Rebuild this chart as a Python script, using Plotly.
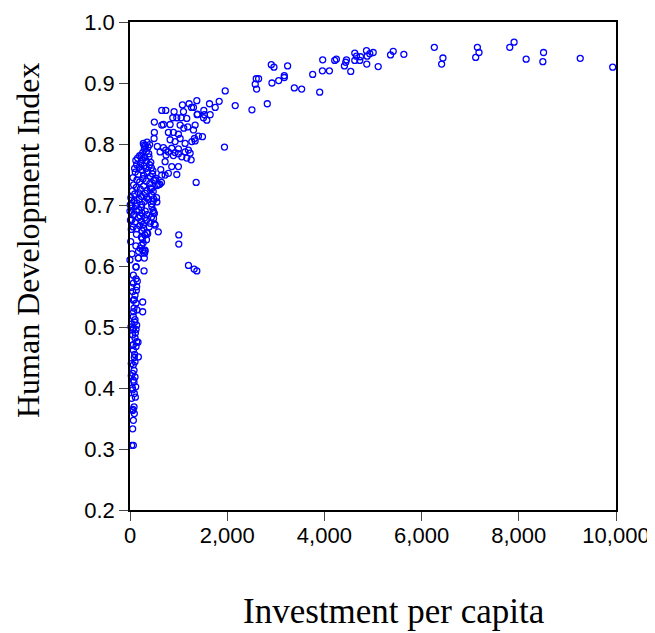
import plotly.graph_objects as go

# Investment per capita (x) and Human Development Index (y)
invest_right = [2598, 2646, 2577, 2605, 2509, 2825, 2907, 2962, 2921, 3059, 3175, 3175, 3243,
                3381, 3532, 3759, 3903, 3959, 3965, 4103, 4212, 4247, 4412, 4439, 4454, 4542,
                4625, 4625, 4660, 4728, 4742, 4866, 4880, 4872, 4934, 5004, 5107, 5361, 5416,
                5635, 6262, 6439, 6412, 7148, 7181, 7113, 7814, 7903, 8151, 8509, 8495, 9264, 9932]
hdi_right = [0.907, 0.907, 0.898, 0.890, 0.856, 0.866, 0.930, 0.926, 0.900, 0.904, 0.912, 0.909, 0.928,
             0.892, 0.890, 0.914, 0.885, 0.920, 0.938, 0.920, 0.937, 0.939, 0.928, 0.934, 0.938, 0.919,
             0.949, 0.937, 0.944, 0.937, 0.943, 0.953, 0.944, 0.931, 0.948, 0.950, 0.927, 0.946, 0.952,
             0.947, 0.9585, 0.941, 0.931, 0.9585, 0.950, 0.942, 0.9585, 0.967, 0.939, 0.950, 0.935, 0.9405, 0.926]

invest_mid = [1959, 1835, 1753, 1636, 1519, 1375, 2165, 1381, 1532, 1649, 1512, 1581, 1340, 1409,
              1491, 1340, 1944, 1361, 1203, 1320, 1375, 1004, 1004]
hdi_mid = [0.887, 0.870, 0.860, 0.866, 0.855, 0.871, 0.863, 0.848, 0.848, 0.848, 0.843, 0.839, 0.831, 0.813,
           0.812, 0.805, 0.795, 0.737, 0.601, 0.595, 0.592, 0.651, 0.636]

invest_upper = [1216, 1079, 1265, 1306, 653, 736, 907, 1100, 1388, 880, 963, 1052, 1168, 501, 653, 687,
                825, 1031, 1189, 1107, 1306, 501, 790, 893, 996, 495, 825, 928, 1031, 1134, 1272, 1326,
                289, 563, 687, 736, 859, 996, 619, 790, 928, 996, 1134, 1202, 742, 893, 1066, 1169, 1237,
                1258, 722, 859, 996, 790, 963, 653, 722, 515, 584, 447]
hdi_upper = [0.866, 0.864, 0.860, 0.860, 0.855, 0.855, 0.853, 0.853, 0.849, 0.843, 0.843, 0.843, 0.842,
             0.836, 0.831, 0.832, 0.832, 0.831, 0.828, 0.826, 0.823, 0.819, 0.819, 0.819, 0.816, 0.809,
             0.807, 0.804, 0.809, 0.801, 0.804, 0.809, 0.798, 0.796, 0.794, 0.790, 0.793, 0.792, 0.787,
             0.787, 0.786, 0.784, 0.787, 0.790, 0.782, 0.781, 0.779, 0.777, 0.785, 0.774, 0.771, 0.763,
             0.763, 0.752, 0.750, 0.749, 0.749, 0.741, 0.733, 0.727]

invest_cluster = [274, 318, 351, 372, 405, 296, 338, 385, 262, 233,
                  156, 199, 254, 301, 342, 391, 428, 120,
                  137, 188, 221, 289, 331, 402, 441, 472, 95,
                  108, 166, 247, 279, 352, 418, 463, 529, 633,
                  61, 143, 201, 268, 336, 407, 488, 556, 647,
                  74, 131, 212, 281, 349, 419, 478, 612,
                  49, 98, 178, 236, 315, 341, 452, 486,
                  18, 86, 147, 189, 244, 304, 381, 444, 476, 546,
                  5, 38, 115, 181, 237, 312, 449, 489, 553,
                  29, 79, 133, 209, 246, 302, 348, 441, 478,
                  39, 106, 169, 236, 271, 339, 416, 484,
                  64, 141, 203, 244, 282, 347, 393, 519,
                  133, 236, 305, 339, 271, 582,
                  121, 209, 258, 299, 236, 176,
                  34, 172, 295, 124, 289, 501, 501, 309, 254, 364,
                  20, 0, 10, 27, 14, 41, 0]
hdi_cluster = [0.801, 0.797, 0.803, 0.795, 0.799, 0.792, 0.788, 0.784, 0.786, 0.781,
               0.777, 0.781, 0.774, 0.778, 0.772, 0.779, 0.770, 0.773,
               0.766, 0.762, 0.768, 0.764, 0.760, 0.766, 0.761, 0.756, 0.760,
               0.754, 0.750, 0.757, 0.749, 0.753, 0.747, 0.751, 0.744, 0.758,
               0.745, 0.741, 0.738, 0.743, 0.739, 0.735, 0.740, 0.732, 0.737,
               0.733, 0.729, 0.726, 0.731, 0.724, 0.728, 0.722, 0.734,
               0.723, 0.718, 0.720, 0.714, 0.719, 0.712, 0.716, 0.710,
               0.712, 0.707, 0.703, 0.709, 0.701, 0.706, 0.709, 0.702, 0.706, 0.712,
               0.700, 0.695, 0.698, 0.692, 0.696, 0.690, 0.697, 0.688, 0.705,
               0.688, 0.684, 0.690, 0.682, 0.687, 0.679, 0.684, 0.680, 0.691,
               0.676, 0.672, 0.679, 0.673, 0.668, 0.675, 0.670, 0.678,
               0.664, 0.661, 0.666, 0.658, 0.662, 0.655, 0.664, 0.667,
               0.652, 0.647, 0.651, 0.643, 0.638, 0.656,
               0.633, 0.629, 0.626, 0.621, 0.634, 0.624,
               0.708, 0.613, 0.613, 0.598, 0.592, 0.669, 0.686, 0.626, 0.645, 0.653,
               0.700, 0.690, 0.675, 0.660, 0.640, 0.620, 0.610]

invest_strip = [309, 172, 124, 69, 124, 69, 137, 55, 103, 69, 124, 83, 144, 261, 261, 69, 103, 137,
                69, 124, 55, 103, 137, 69, 124, 69, 172, 103, 69, 83, 55, 103, 69, 117, 55, 89, 34,
                83, 55, 89, 69, 55, 69, 34,
                41, 96, 55, 110, 41, 96, 27, 82, 48, 110, 27, 62, 89, 20, 75, 130, 150, 89, 34, 165]
hdi_strip = [0.624, 0.613, 0.599, 0.585, 0.579, 0.572, 0.566, 0.558, 0.552, 0.544, 0.539, 0.531, 0.528,
             0.541, 0.525, 0.517, 0.512, 0.503, 0.498, 0.496, 0.487, 0.482, 0.476, 0.471, 0.468, 0.462,
             0.451, 0.443, 0.438, 0.429, 0.424, 0.418, 0.413, 0.402, 0.397, 0.391, 0.383, 0.369, 0.363,
             0.358, 0.347, 0.333, 0.306, 0.306,
             0.505, 0.508, 0.495, 0.490, 0.470, 0.455, 0.440, 0.410, 0.400, 0.385, 0.420, 0.365, 0.450,
             0.500, 0.525, 0.560, 0.575, 0.545, 0.565, 0.475]

investment = invest_right + invest_mid + invest_upper + invest_cluster + invest_strip
hdi = hdi_right + hdi_mid + hdi_upper + hdi_cluster + hdi_strip

x_ticks = [0, 2000, 4000, 6000, 8000, 10000]
y_ticks = [0.2, 0.3, 0.4, 0.5, 0.6, 0.7, 0.8, 0.9, 1.0]

fig = go.Figure()
fig.add_trace(go.Scatter(
    x=investment, y=hdi, mode="markers", cliponaxis=False,
    marker=dict(symbol="circle-open", size=6, color="#0000FF", line=dict(width=1.3, color="#0000FF")),
    showlegend=False,
))

axis_common = dict(
    showline=True, linecolor="black", linewidth=1.5, mirror=True,
    ticks="outside", ticklen=9, tickcolor="#444", tickwidth=1,
    showgrid=False, zeroline=False, automargin=False,
    tickfont=dict(family="Liberation Sans, Arial, sans-serif", size=22, color="black"),
)

# page body has an 8px margin, so the figure is offset accordingly
fig.update_layout(
    width=647, height=625,
    margin=dict(l=122, r=39, t=14, b=123, autoexpand=False),
    plot_bgcolor="white", paper_bgcolor="white",
    xaxis=dict(range=[0, 10000], tickvals=x_ticks, tickformat=",d", ticklabelstandoff=-4, **axis_common),
    yaxis=dict(range=[0.2, 1.0], tickvals=y_ticks, tickformat=".1f", **axis_common),
    annotations=[
        dict(text="Investment per capita", xref="paper", yref="paper", x=0.544, y=-0.209,
             xanchor="center", yanchor="middle", showarrow=False,
             font=dict(family="Liberation Serif, Times New Roman, serif", size=35, color="black")),
        dict(text="Human Development Index", xref="paper", yref="paper", x=-0.21, y=0.553,
             xanchor="center", yanchor="middle", showarrow=False, textangle=-90,
             font=dict(family="Liberation Serif, Times New Roman, serif", size=32, color="black")),
    ],
)

fig.write_html("out.html")
